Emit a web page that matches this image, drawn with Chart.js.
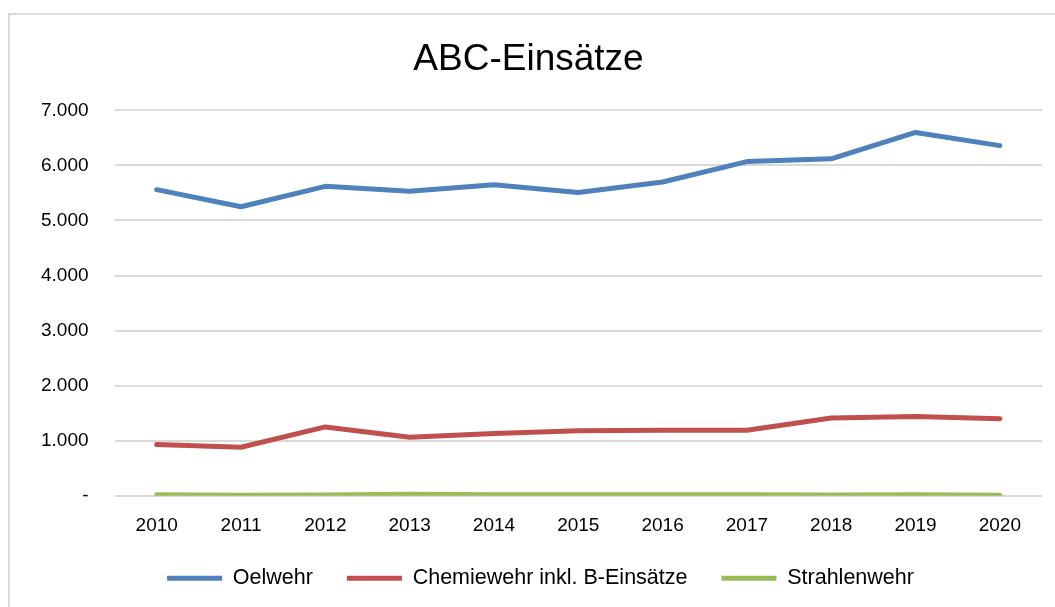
<!DOCTYPE html>
<html>
<head>
<meta charset="utf-8">
<script src="https://cdn.jsdelivr.net/npm/chart.js@4"></script>
<style>
  body { margin: 0; background: #fff; overflow: hidden; }
  #frame { position: absolute; left: 8px; top: 13px; width: 1100px; height: 700px; border: 2px solid #d9d9d9; }
  #wrap { position: absolute; left: 0; top: 0; width: 1055px; height: 607px; }
</style>
</head>
<body>
<div id="frame"></div>
<div id="wrap"><canvas id="abc"></canvas></div>
<script>
const years = ['2010', '2011', '2012', '2013', '2014', '2015', '2016', '2017', '2018', '2019', '2020'];
const oelwehr = [5560, 5250, 5620, 5530, 5650, 5510, 5700, 6070, 6120, 6600, 6360];
const chemiewehr = [930, 880, 1250, 1060, 1130, 1180, 1190, 1190, 1410, 1440, 1400];
const strahlenwehr = [15, 10, 12, 25, 15, 15, 15, 15, 12, 15, 10];

const tickFont = { family: "'Liberation Sans', Arial, sans-serif", size: 19 };

function fmt(v) {
    if (v === 0) return '-';
    return v.toLocaleString('de-DE');
}

function series(label, data, color) {
    return {
        label: label,
        data: data,
        borderColor: color,
        backgroundColor: color,
        borderWidth: 5,
        borderCapStyle: 'round',
        borderJoinStyle: 'round',
        pointRadius: 0,
        pointStyle: 'line',
        tension: 0
    };
}

// nudge the legend: closer to the axis labels and a bit to the right
const legendShift = {
    id: 'legendShift',
    afterLayout(chart) {
        const lg = chart.legend;
        lg.top -= 8;
        lg.bottom -= 8;
        lg.left += 12;
        lg.right += 12;
    }
};

new Chart(document.getElementById('abc'), {
    type: 'line',
    data: {
        labels: years,
        datasets: [
            series('Oelwehr', oelwehr, '#4f81bd'),
            series('Chemiewehr inkl. B-Einsätze', chemiewehr, '#c0504d'),
            series('Strahlenwehr', strahlenwehr, '#9bbb59')
        ]
    },
    plugins: [legendShift],
    options: {
        responsive: true,
        maintainAspectRatio: false,
        animation: false,
        layout: { padding: { left: 15, right: 13, top: 18, bottom: 0 } },
        plugins: {
            title: {
                display: true,
                text: 'ABC-Einsätze',
                color: '#000',
                font: { family: "'Liberation Sans', Arial, sans-serif", size: 37, weight: 'normal' },
                padding: { top: 20, bottom: 28 }
            },
            legend: {
                position: 'bottom',
                labels: {
                    usePointStyle: true,
                    pointStyleWidth: 55,
                    color: '#000',
                    padding: 34,
                    font: { family: "'Liberation Sans', sans-serif", size: 21.5 }
                }
            },
            tooltip: { enabled: false }
        },
        scales: {
            x: {
                offset: true,
                grid: { display: false, drawTicks: false },
                border: { display: false },
                ticks: { color: '#000', font: tickFont, padding: 19, maxRotation: 0 },
                afterFit: s => { s.height -= 15; }
            },
            y: {
                min: 0,
                max: 7000,
                grid: { color: '#d9d9d9', lineWidth: 2, drawTicks: false },
                border: { display: false },
                ticks: { stepSize: 1000, color: '#000', font: tickFont, padding: 26, callback: v => fmt(v) }
            }
        }
    }
});
</script>
</body>
</html>
